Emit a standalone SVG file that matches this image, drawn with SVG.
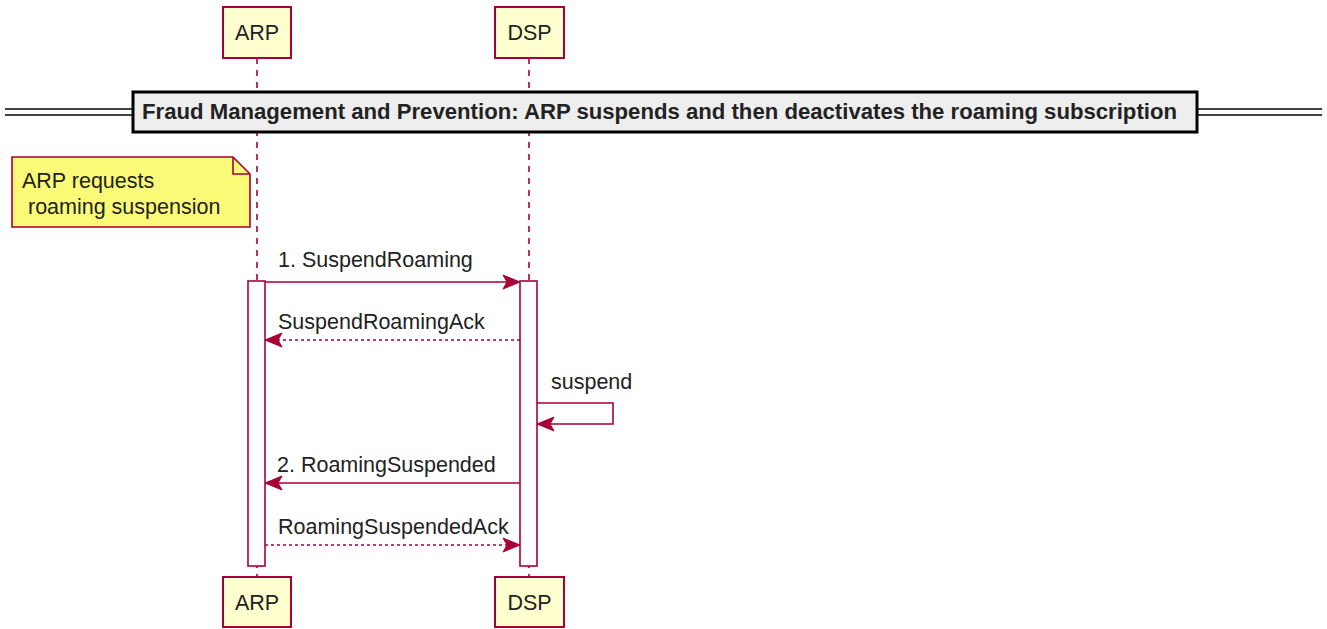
<svg xmlns="http://www.w3.org/2000/svg" width="1327" height="629" viewBox="0 0 1327 629">
<defs>
<style>
.part{fill:#FEFECE;stroke:#A80036;stroke-width:2}
.txt{font-family:"Liberation Sans",Arial,sans-serif;font-size:21.5px;fill:#222}
.life{stroke:#A80036;stroke-width:1.6;stroke-dasharray:6,6;fill:none}
.act{fill:#FFFFFF;stroke:#A80036;stroke-width:1.6}
.msg{stroke:#A80036;stroke-width:1.6;fill:none}
.dash{stroke-dasharray:3,3}
.head{fill:#A80036;stroke:#A80036}
</style>
<marker id="ah" markerUnits="userSpaceOnUse" markerWidth="20" markerHeight="18" viewBox="-18 -8 20 16" refX="0" refY="0" orient="auto">
<polygon points="0,0 -17,-7 -13,0 -17,7" class="head"/>
</marker>
</defs>
<rect width="1327" height="629" fill="#FFFFFF"/>
<g id="lifelines">
<line class="life" x1="257" y1="58" x2="257" y2="576"/>
<line class="life" x1="529" y1="58" x2="529" y2="576"/>
</g>
<g id="divider">
<line x1="5" y1="109" x2="133" y2="109" stroke="#444" stroke-width="2"/>
<line x1="5" y1="115" x2="133" y2="115" stroke="#444" stroke-width="2"/>
<line x1="1197" y1="109" x2="1322" y2="109" stroke="#444" stroke-width="2"/>
<line x1="1197" y1="115" x2="1322" y2="115" stroke="#444" stroke-width="2"/>
<rect x="133" y="92" width="1064" height="40" fill="#EEEEEE" stroke="#000" stroke-width="3"/>
<text class="txt" x="142" y="119" font-weight="bold" fill="#000" style="font-size:22px" textLength="1035" lengthAdjust="spacingAndGlyphs">Fraud Management and Prevention: ARP suspends and then deactivates the roaming subscription</text>
</g>
<g id="arp-top">
<rect class="part" x="223" y="7" width="68" height="51"/>
<text class="txt" x="257" y="40" text-anchor="middle">ARP</text>
</g>
<g id="dsp-top">
<rect class="part" x="495" y="7" width="69" height="51"/>
<text class="txt" x="529.5" y="40" text-anchor="middle">DSP</text>
</g>
<g id="arp-bottom">
<rect class="part" x="223" y="577" width="68" height="50"/>
<text class="txt" x="257" y="610" text-anchor="middle">ARP</text>
</g>
<g id="dsp-bottom">
<rect class="part" x="495" y="577" width="69" height="50"/>
<text class="txt" x="529.5" y="610" text-anchor="middle">DSP</text>
</g>
<g id="note">
<path d="M12,157 L233,157 L250,174 L250,227 L12,227 Z" fill="#FBFB77" stroke="#A80036" stroke-width="1.6"/>
<path d="M233,157 L233,174 L250,174" fill="none" stroke="#A80036" stroke-width="1.6"/>
<text class="txt" x="22" y="188">ARP requests</text>
<text class="txt" x="22" y="214" xml:space="preserve"> roaming suspension</text>
</g>
<g id="activations">
<rect class="act" x="248" y="281" width="17" height="285"/>
<rect class="act" x="520" y="281" width="17" height="285"/>
</g>
<g id="connectors">
<line class="msg" x1="265" y1="282" x2="520" y2="282" marker-end="url(#ah)"/>
<text class="txt" x="278" y="267">1. SuspendRoaming</text>
<line class="msg dash" x1="520" y1="340" x2="265" y2="340" marker-end="url(#ah)"/>
<text class="txt" x="278" y="329">SuspendRoamingAck</text>
<polyline class="msg" points="537,403 613,403 613,424 537,424" marker-end="url(#ah)"/>
<text class="txt" x="551" y="389">suspend</text>
<line class="msg" x1="520" y1="483" x2="265" y2="483" marker-end="url(#ah)"/>
<text class="txt" x="277" y="472">2. RoamingSuspended</text>
<line class="msg dash" x1="265" y1="545" x2="520" y2="545" marker-end="url(#ah)"/>
<text class="txt" x="278" y="534">RoamingSuspendedAck</text>
</g>
</svg>
